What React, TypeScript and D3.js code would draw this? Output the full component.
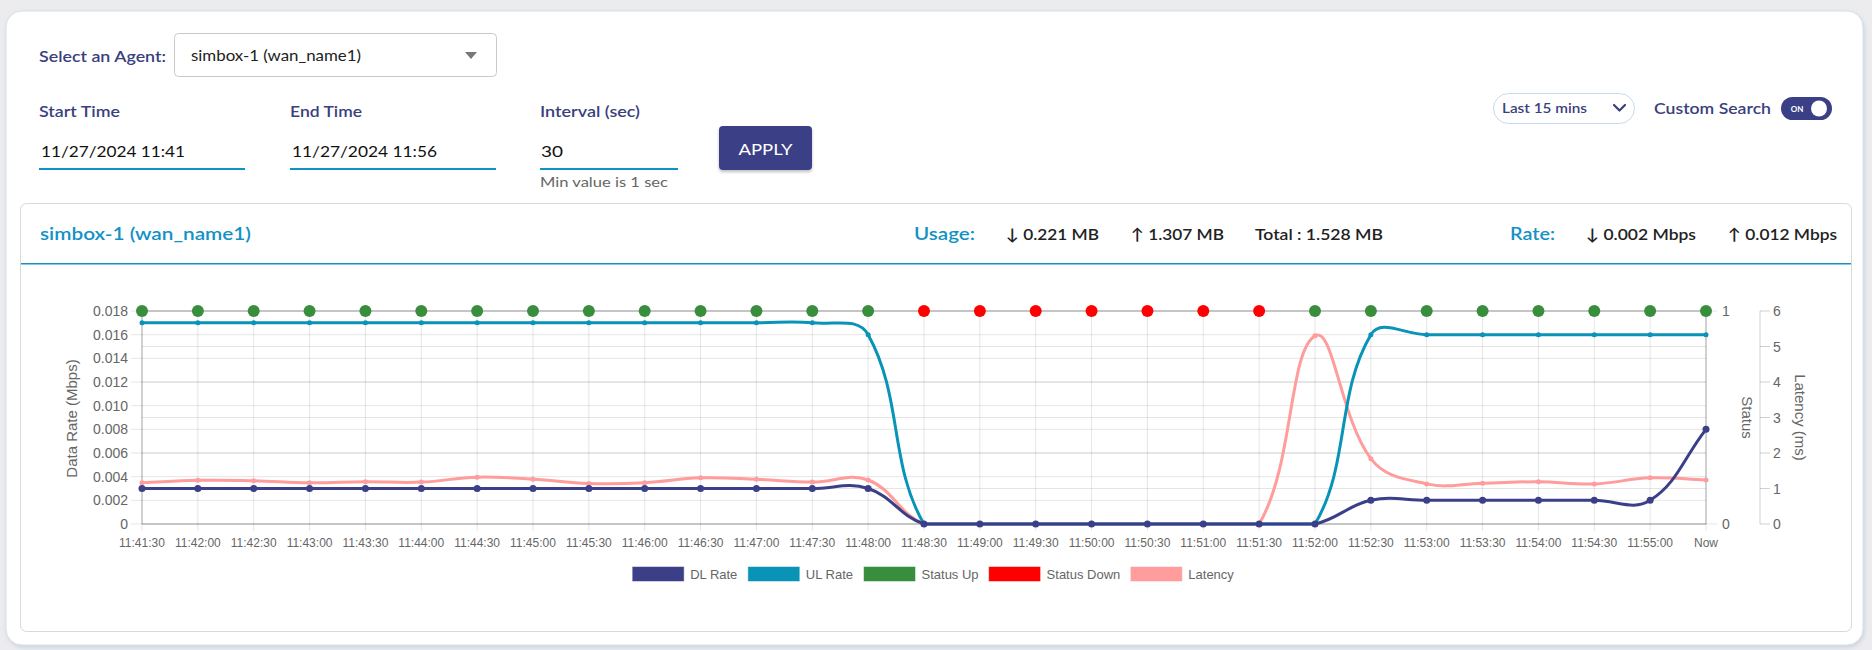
import React from "react";
import * as d3 from "d3";

// ---------- data ----------
const timeLabels = [
  "11:41:30", "11:42:00", "11:42:30", "11:43:00", "11:43:30", "11:44:00", "11:44:30",
  "11:45:00", "11:45:30", "11:46:00", "11:46:30", "11:47:00", "11:47:30", "11:48:00",
  "11:48:30", "11:49:00", "11:49:30", "11:50:00", "11:50:30", "11:51:00", "11:51:30",
  "11:52:00", "11:52:30", "11:53:00", "11:53:30", "11:54:00", "11:54:30", "11:55:00", "Now",
];
const dlRate = [
  0.003, 0.003, 0.003, 0.003, 0.003, 0.003, 0.003, 0.003, 0.003, 0.003, 0.003, 0.003, 0.003, 0.003,
  0, 0, 0, 0, 0, 0, 0, 0,
  0.002, 0.002, 0.002, 0.002, 0.002, 0.002, 0.008,
];
const ulRate = [
  0.017, 0.017, 0.017, 0.017, 0.017, 0.017, 0.017, 0.017, 0.017, 0.017, 0.017, 0.017, 0.017, 0.016,
  0, 0, 0, 0, 0, 0, 0, 0,
  0.016, 0.016, 0.016, 0.016, 0.016, 0.016, 0.016,
];
const latency = [
  1.16, 1.23, 1.22, 1.16, 1.19, 1.18, 1.32, 1.26, 1.14, 1.16, 1.3, 1.26, 1.18, 1.24,
  0, 0, 0, 0, 0, 0, 0,
  5.3, 1.84, 1.13, 1.15, 1.19, 1.13, 1.3, 1.24,
];
const statusStates = [
  "up", "up", "up", "up", "up", "up", "up", "up", "up", "up", "up", "up", "up", "up",
  "down", "down", "down", "down", "down", "down", "down",
  "up", "up", "up", "up", "up", "up", "up", "up",
];
const rateTicks = [0, 0.002, 0.004, 0.006, 0.008, 0.01, 0.012, 0.014, 0.016, 0.018];
const rateTickLabels = ["0", "0.002", "0.004", "0.006", "0.008", "0.010", "0.012", "0.014", "0.016", "0.018"];
const latencyTicks = [0, 1, 2, 3, 4, 5, 6];
const statusTicks = [0, 1];

const legendNames = ["DL Rate", "UL Rate", "Status Up", "Status Down", "Latency"];
const legendColors = ["#3b3f88", "#0893b7", "#388e3c", "#ff0000", "#ff9c9c"];

const usageDown = "0.221 MB";
const usageUp = "1.307 MB";
const usageTotal = "1.528 MB";
const rateDown = "0.002 Mbps";
const rateUp = "0.012 Mbps";

// ---------- style ----------
const NAVY = "#3a3f7e";
const TEAL = "#1292c4";
const UI_FONT = "Lato, 'Noto Sans', sans-serif";
const CH_FONT = "'Liberation Sans', Arial, sans-serif";
const AX = "#666";

const PLOT = { left: 142, right: 1706, top: 311, bottom: 524 };

function measure(text: string, font: string): number {
  try {
    const c = document.createElement("canvas").getContext("2d");
    if (c) {
      c.font = font;
      return c.measureText(text).width;
    }
  } catch (e) {}
  return text.length * 7;
}

// Chart.js-style spline (tension 0.4) with control points capped to the chart area
function splinePath(pts: [number, number][], t: number): string {
  const n = pts.length;
  const cy = (v: number) => Math.max(PLOT.top, Math.min(PLOT.bottom, v));
  const cx = (v: number) => Math.max(PLOT.left, Math.min(PLOT.right, v));
  const cps = pts.map((p, i) => {
    const prev = pts[Math.max(0, i - 1)];
    const next = pts[Math.min(n - 1, i + 1)];
    const d01 = Math.hypot(p[0] - prev[0], p[1] - prev[1]);
    const d12 = Math.hypot(next[0] - p[0], next[1] - p[1]);
    let s01 = d01 / (d01 + d12);
    let s12 = d12 / (d01 + d12);
    if (isNaN(s01)) s01 = 0;
    if (isNaN(s12)) s12 = 0;
    const fa = t * s01;
    const fb = t * s12;
    const dx = next[0] - prev[0];
    const dy = next[1] - prev[1];
    return {
      px: cx(p[0] - fa * dx), py: cy(p[1] - fa * dy),
      nx: cx(p[0] + fb * dx), ny: cy(p[1] + fb * dy),
    };
  });
  const path = d3.path();
  path.moveTo(pts[0][0], pts[0][1]);
  for (let i = 1; i < n; i++) {
    path.bezierCurveTo(cps[i - 1].nx, cps[i - 1].ny, cps[i].px, cps[i].py, pts[i][0], pts[i][1]);
  }
  return path.toString();
}

function T(props: any) {
  const { x, y, children, size = 15, weight = 400, fill = "#222", anchor = "start", len, font = UI_FONT, ...rest } = props;
  return (
    <text
      x={x}
      y={y}
      fontSize={size}
      fontWeight={weight}
      fill={fill}
      textAnchor={anchor}
      dominantBaseline="central"
      fontFamily={font}
      {...(len ? { textLength: len, lengthAdjust: "spacingAndGlyphs" } : {})}
      {...rest}
    >
      {children}
    </text>
  );
}

function Chart() {
  const x = d3.scalePoint<string>().domain(timeLabels).range([PLOT.left, PLOT.right]);
  const yRate = d3.scaleLinear().domain([0, 0.018]).range([PLOT.bottom, PLOT.top]);
  const yLat = d3.scaleLinear().domain([0, 6]).range([PLOT.bottom, PLOT.top]);
  const yStat = d3.scaleLinear().domain([0, 1]).range([PLOT.bottom, PLOT.top]);

  const dlPts = timeLabels.map((l, i) => [x(l)!, yRate(dlRate[i])] as [number, number]);
  const ulPts = timeLabels.map((l, i) => [x(l)!, yRate(ulRate[i])] as [number, number]);
  const latPts = timeLabels.map((l, i) => [x(l)!, yLat(latency[i])] as [number, number]);

  const grid = "rgba(0,0,0,0.1)";
  const border = "rgba(0,0,0,0.28)";

  // legend layout (Chart.js style, centred)
  const boxW = 52, boxH = 15, gap = 6, pad = 10;
  const lf = `13px ${CH_FONT}`;
  const widths = legendNames.map((n) => boxW + gap + measure(n, lf));
  const total = d3.sum(widths) + pad * (widths.length - 1);
  const legendCenter = 933;
  let lx = legendCenter - total / 2;
  const legendY = 574;
  const legendItems = legendNames.map((n, i) => {
    const item = { name: n, color: legendColors[i], x: lx };
    lx += widths[i] + pad;
    return item;
  });

  return (
    <g fontFamily={CH_FONT}>
      {/* horizontal grid lines */}
      {rateTicks.map((t) => (
        <line key={"r" + t} x1={PLOT.left - 11} x2={PLOT.right} y1={yRate(t)} y2={yRate(t)} stroke={grid} />
      ))}
      {latencyTicks.map((t) => (
        <line key={"l" + t} x1={PLOT.left} x2={PLOT.right} y1={yLat(t)} y2={yLat(t)} stroke={grid} />
      ))}
      {/* vertical grid lines */}
      {timeLabels.map((l) => (
        <line key={"v" + l} x1={x(l)} x2={x(l)} y1={PLOT.top} y2={PLOT.bottom + 7} stroke={grid} />
      ))}
      {/* borders */}
      <line x1={PLOT.left} x2={PLOT.right} y1={PLOT.bottom} y2={PLOT.bottom} stroke={border} strokeWidth={1.2} />
      <line x1={PLOT.left} x2={PLOT.right} y1={PLOT.top} y2={PLOT.top} stroke={border} />
      <line x1={PLOT.left} x2={PLOT.left} y1={PLOT.top} y2={PLOT.bottom} stroke={border} />
      <line x1={PLOT.right} x2={PLOT.right} y1={PLOT.top} y2={PLOT.bottom} stroke={border} />

      {/* left axis labels */}
      {rateTicks.map((t, i) => (
        <T key={"rl" + t} x={PLOT.left - 14} y={yRate(t)} anchor="end" size={14} fill={AX} font={CH_FONT}>
          {rateTickLabels[i]}
        </T>
      ))}
      <T x={71} y={(PLOT.top + PLOT.bottom) / 2 + 1} anchor="middle" size={15} fill={AX} font={CH_FONT}
        transform={`rotate(-90, 71, ${(PLOT.top + PLOT.bottom) / 2 + 1})`}>
        Data Rate (Mbps)
      </T>

      {/* status axis */}
      {statusTicks.map((t) => (
        <g key={"s" + t}>
          <line x1={PLOT.right} x2={PLOT.right + 11} y1={yStat(t)} y2={yStat(t)} stroke={grid} />
          <T x={PLOT.right + 16} y={yStat(t)} size={14} fill={AX} font={CH_FONT}>{String(t)}</T>
        </g>
      ))}
      <T x={1747} y={(PLOT.top + PLOT.bottom) / 2} anchor="middle" size={15} fill={AX} font={CH_FONT}
        transform={`rotate(90, 1747, ${(PLOT.top + PLOT.bottom) / 2})`}>
        Status
      </T>

      {/* latency axis */}
      <line x1={1760} x2={1760} y1={PLOT.top} y2={PLOT.bottom} stroke="rgba(0,0,0,0.18)" />
      {latencyTicks.map((t) => (
        <g key={"la" + t}>
          <line x1={1760} x2={1770} y1={yLat(t)} y2={yLat(t)} stroke="rgba(0,0,0,0.18)" />
          <T x={1773} y={yLat(t)} size={14} fill={AX} font={CH_FONT}>{String(t)}</T>
        </g>
      ))}
      <T x={1800} y={(PLOT.top + PLOT.bottom) / 2} anchor="middle" size={15} fill={AX} font={CH_FONT}
        transform={`rotate(90, 1800, ${(PLOT.top + PLOT.bottom) / 2})`}>
        Latency (ms)
      </T>

      {/* x labels */}
      {timeLabels.map((l) => (
        <T key={"xl" + l} x={x(l)} y={543} anchor="middle" size={12} fill={AX} font={CH_FONT}>{l}</T>
      ))}

      {/* series: latency, UL, DL, status */}
      <path d={splinePath(latPts, 0.4)} fill="none" stroke="#ff9c9c" strokeWidth={3} />
      {latPts.map((p, i) => <circle key={"lp" + i} cx={p[0]} cy={p[1]} r={2.5} fill="#ff9c9c" />)}
      <path d={splinePath(ulPts, 0.4)} fill="none" stroke="#0893b7" strokeWidth={3} />
      {ulPts.map((p, i) => <circle key={"up" + i} cx={p[0]} cy={p[1]} r={2.5} fill="#0893b7" />)}
      <path d={splinePath(dlPts, 0.4)} fill="none" stroke="#3b3f88" strokeWidth={3} />
      {dlPts.map((p, i) => <circle key={"dp" + i} cx={p[0]} cy={p[1]} r={3.5} fill="#3b3f88" />)}
      {timeLabels.map((l, i) => (
        <circle key={"st" + i} cx={x(l)} cy={yStat(1)} r={6}
          fill={statusStates[i] === "up" ? "#388e3c" : "#ff0000"} />
      ))}

      {/* legend */}
      {legendItems.map((it) => (
        <g key={it.name}>
          <rect x={it.x} y={legendY - boxH / 2} width={boxW} height={boxH} fill={it.color}
            stroke="#fff" strokeOpacity={0.5} />
          <T x={it.x + boxW + gap} y={legendY} size={13} fill={AX} font={CH_FONT}>{it.name}</T>
        </g>
      ))}
    </g>
  );
}

export default function App() {
  return (
    <div style={{ position: "absolute", left: 0, top: 0, width: 1872, height: 650, overflow: "hidden" }}>
      <svg width={1872} height={650} style={{ display: "block" }}>
        <defs>
          <filter id="sh" x="-5%" y="-5%" width="110%" height="115%">
            <feDropShadow dx="1" dy="2" stdDeviation="2" floodColor="#9fb3cc" floodOpacity="0.45" />
          </filter>
          <filter id="bsh" x="-10%" y="-10%" width="120%" height="140%">
            <feDropShadow dx="0" dy="2" stdDeviation="1.5" floodColor="#000" floodOpacity="0.25" />
          </filter>
        </defs>
        <rect x={0} y={0} width={1872} height={650} fill="#ececee" />
        {/* outer card */}
        <rect x={6} y={11} width={1857} height={634} rx={16} fill="#fff" stroke="#d6e0ec" filter="url(#sh)" />

        {/* agent select */}
        <T x={39} y={55} size={16} weight={600} fill={NAVY} len={127}>Select an Agent:</T>
        <rect x={174.5} y={33.5} width={322} height={43} rx={4} fill="#fff" stroke="#c9c9c9" />
        <T x={191} y={55} size={15} fill="#222" len={170}>simbox-1 (wan_name1)</T>
        <path d="M465,52 L477,52 L471,59 Z" fill="#777" />

        {/* time inputs */}
        <T x={39} y={110} size={16} weight={600} fill={NAVY} len={81}>Start Time</T>
        <T x={290} y={110} size={16} weight={600} fill={NAVY} len={72}>End Time</T>
        <T x={540} y={110} size={16} weight={600} fill={NAVY} len={100}>Interval (sec)</T>
        <T x={41} y={150} size={16} fill="#111" len={144}>11/27/2024 11:41</T>
        <T x={292} y={150} size={16} fill="#111" len={145}>11/27/2024 11:56</T>
        <T x={541} y={150} size={16} fill="#111" len={22}>30</T>
        <rect x={39} y={168} width={206} height={2} fill={TEAL} />
        <rect x={290} y={168} width={206} height={2} fill={TEAL} />
        <rect x={540} y={168} width={138} height={2} fill={TEAL} />
        <T x={540} y={182} size={13} fill="#666" len={128}>Min value is 1 sec</T>
        <rect x={719} y={126} width={93} height={44} rx={4} fill="#3b3f86" filter="url(#bsh)" />
        <T x={765.5} y={148} size={16} fill="#fff" anchor="middle" len={54}>APPLY</T>

        {/* top-right controls */}
        <rect x={1493.5} y={93.5} width={141} height={30} rx={15} fill="#fff" stroke="#c7d9ec" />
        <T x={1502} y={107} size={14} weight={600} fill={NAVY} len={85}>Last 15 mins</T>
        <path d="M1614,105 L1619.5,110.5 L1625,105" fill="none" stroke={NAVY} strokeWidth={2.2} strokeLinecap="round" strokeLinejoin="round" />
        <T x={1654} y={107} size={16} weight={600} fill={NAVY} len={117}>Custom Search</T>
        <rect x={1781} y={97} width={51} height={23} rx={11.5} fill="#3b3f86" />
        <T x={1797} y={108.5} size={8} weight={700} fill="#fff" anchor="middle">ON</T>
        <circle cx={1819} cy={108.5} r={8} fill="#fff" />

        {/* inner card */}
        <rect x={20.5} y={203.5} width={1831} height={428} rx={6} fill="#fff" stroke="#d9d9d9" />
        <rect x={21} y={263} width={1830} height={1.5} fill="#1a8fc0" />
        <T x={40} y={233} size={18} weight={600} fill={TEAL} len={211}>simbox-1 (wan_name1)</T>
        <T x={914} y={233} size={18} weight={600} fill={TEAL} len={61}>Usage:</T>
        <T x={1006} y={233} size={16} weight={600} fill="#222" len={93}>{"\u2193 " + usageDown}</T>
        <T x={1131} y={233} size={16} weight={600} fill="#222" len={93}>{"\u2191 " + usageUp}</T>
        <T x={1255} y={233} size={16} weight={600} fill="#222" len={128}>{"Total : " + usageTotal}</T>
        <T x={1510} y={233} size={18} weight={600} fill={TEAL} len={45}>Rate:</T>
        <T x={1586} y={233} size={16} weight={600} fill="#222" len={110}>{"\u2193 " + rateDown}</T>
        <T x={1728} y={233} size={16} weight={600} fill="#222" len={109}>{"\u2191 " + rateUp}</T>

        <Chart />
      </svg>
    </div>
  );
}
